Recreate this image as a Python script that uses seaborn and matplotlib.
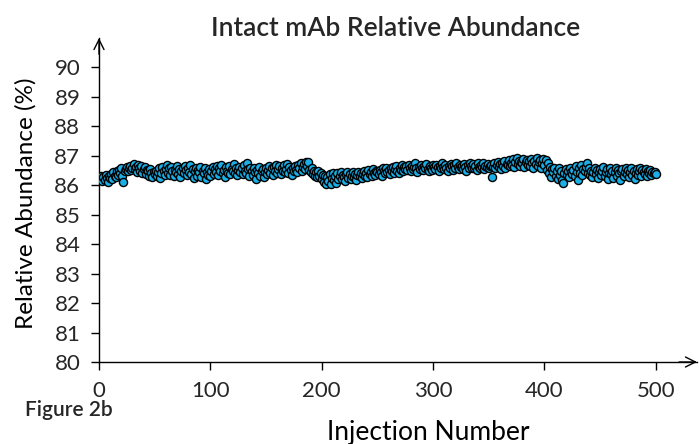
import numpy as np
import pandas as pd
import matplotlib
matplotlib.use("Agg")
import matplotlib.pyplot as plt
import seaborn as sns

# relative abundance (%) of intact mAb for injections 1..500
abundance = [
    86.22, 86.31, 86.15, 86.28, 86.19, 86.35, 86.24, 86.12, 86.30, 86.26, 86.38, 86.21, 86.44, 86.33, 86.29, 86.47, 86.36, 86.52, 86.41, 86.58, 86.32, 86.12, 86.49, 86.55, 86.62,
    86.48, 86.57, 86.66, 86.51, 86.60, 86.72, 86.54, 86.63, 86.45, 86.69, 86.58, 86.50, 86.64, 86.42, 86.56, 86.61, 86.38, 86.52, 86.47, 86.33, 86.55, 86.41, 86.29, 86.46, 86.37,
    86.50, 86.32, 86.44, 86.58, 86.26, 86.40, 86.62, 86.48, 86.35, 86.55, 86.68, 86.43, 86.57, 86.36, 86.61, 86.49, 86.30, 86.53, 86.45, 86.64, 86.38, 86.56, 86.27, 86.47, 86.59,
    86.42, 86.66, 86.51, 86.34, 86.58, 86.45, 86.70, 86.39, 86.55, 86.24, 86.48, 86.60, 86.33, 86.52, 86.44, 86.63, 86.29, 86.50, 86.41, 86.57, 86.22, 86.46, 86.35, 86.54, 86.31,
    86.49, 86.62, 86.38, 86.55, 86.44, 86.67, 86.36, 86.58, 86.47, 86.70, 86.40, 86.53, 86.29, 86.61, 86.50, 86.43, 86.65, 86.37, 86.56, 86.48, 86.72, 86.41, 86.59, 86.34, 86.52,
    86.63, 86.45, 86.57, 86.38, 86.68, 86.50, 86.42, 86.74, 86.55, 86.31, 86.60, 86.47, 86.36, 86.58, 86.44, 86.22, 86.51, 86.40, 86.62, 86.33, 86.49, 86.56, 86.27, 86.45, 86.60,
    86.38, 86.52, 86.66, 86.43, 86.57, 86.35, 86.61, 86.48, 86.70, 86.42, 86.55, 86.64, 86.37, 86.59, 86.50, 86.68, 86.45, 86.56, 86.73, 86.40, 86.62, 86.51, 86.34, 86.58, 86.47,
    86.65, 86.53, 86.44, 86.69, 86.57, 86.76, 86.48, 86.62, 86.71, 86.55, 86.80, 86.66, 86.78, 86.52, 86.45, 86.60, 86.38, 86.50, 86.33, 86.46, 86.28, 86.48, 86.30, 86.41, 86.22,
    86.35, 86.12, 86.30, 86.04, 86.27, 86.15, 86.38, 86.06, 86.24, 86.42, 86.18, 86.33, 86.09, 86.40, 86.22, 86.31, 86.45, 86.20, 86.36, 86.27, 86.16, 86.39, 86.44, 86.25, 86.37,
    86.21, 86.31, 86.44, 86.28, 86.38, 86.19, 86.35, 86.46, 86.30, 86.41, 86.24, 86.37, 86.49, 86.33, 86.43, 86.27, 86.52, 86.39, 86.46, 86.32, 86.55, 86.42, 86.36, 86.50, 86.44,
    86.38, 86.53, 86.46, 86.33, 86.57, 86.49, 86.41, 86.60, 86.45, 86.52, 86.37, 86.58, 86.48, 86.62, 86.43, 86.55, 86.66, 86.50, 86.40, 86.59, 86.53, 86.68, 86.47, 86.61, 86.56,
    86.64, 86.52, 86.70, 86.58, 86.49, 86.66, 86.55, 86.62, 86.75, 86.57, 86.46, 86.63, 86.54, 86.69, 86.60, 86.51, 86.67, 86.58, 86.72, 86.55, 86.48, 86.65, 86.59, 86.53, 86.68,
    86.61, 86.55, 86.70, 86.63, 86.50, 86.66, 86.58, 86.74, 86.62, 86.54, 86.69, 86.60, 86.47, 86.65, 86.57, 86.72, 86.64, 86.52, 86.68, 86.59, 86.76, 86.63, 86.55, 86.70, 86.61,
    86.67, 86.56, 86.73, 86.62, 86.50, 86.68, 86.60, 86.75, 86.64, 86.57, 86.71, 86.59, 86.66, 86.53, 86.74, 86.63, 86.58, 86.69, 86.61, 86.77, 86.55, 86.67, 86.62, 86.72, 86.58,
    86.65, 86.70, 86.28, 86.63, 86.74, 86.59, 86.68, 86.80, 86.62, 86.71, 86.56, 86.75, 86.66, 86.82, 86.60, 86.73, 86.68, 86.85, 86.64, 86.77, 86.70, 86.88, 86.62, 86.79, 86.94,
    86.72, 86.84, 86.66, 86.80, 86.74, 86.90, 86.63, 86.78, 86.86, 86.70, 86.82, 86.67, 86.88, 86.75, 86.60, 86.83, 86.71, 86.92, 86.65, 86.79, 86.87, 86.58, 86.76, 86.90, 86.68,
    86.85, 86.52, 86.74, 86.40, 86.62, 86.28, 86.55, 86.44, 86.60, 86.32, 86.50, 86.22, 86.57, 86.36, 86.47, 86.18, 86.08, 86.42, 86.56, 86.35, 86.49, 86.27, 86.60, 86.44, 86.38,
    86.52, 86.30, 86.66, 86.45, 86.19, 86.58, 86.40, 86.70, 86.34, 86.55, 86.47, 86.62, 86.74, 86.41, 86.57, 86.36, 86.50, 86.28, 86.46, 86.60, 86.38, 86.53, 86.24, 86.44, 86.56,
    86.35, 86.48, 86.62, 86.30, 86.45, 86.54, 86.22, 86.41, 86.58, 86.37, 86.50, 86.26, 86.46, 86.60, 86.33, 86.52, 86.43, 86.18, 86.49, 86.56, 86.31, 86.44, 86.57, 86.38, 86.51,
    86.27, 86.45, 86.58, 86.34, 86.49, 86.21, 86.42, 86.55, 86.36, 86.47, 86.60, 86.32, 86.52, 86.44, 86.39, 86.56, 86.30, 86.48, 86.42, 86.53, 86.35, 86.46, 86.40, 86.44, 86.38,
]
injection = list(range(1, len(abundance) + 1))

x_ticks = [0, 100, 200, 300, 400, 500]
y_ticks = [80, 81, 82, 83, 84, 85, 86, 87, 88, 89, 90]

df = pd.DataFrame({"injection": injection, "abundance": abundance})

sns.set_style("white")
plt.rcParams["font.family"] = ["Lato", "DejaVu Sans"]

fig = plt.figure(figsize=(6.99, 4.44), dpi=100)
ax = fig.add_axes([99 / 699, 1 - 362 / 444, (697 - 99) / 699, (362 - 38) / 444])

sns.scatterplot(data=df, x="injection", y="abundance", ax=ax,
                color="#1AAFE6", edgecolor="black", linewidth=1.0, s=34, zorder=3)

ax.set_xlim(0, 537)
ax.set_ylim(80, 91)
ax.set_xticks(x_ticks)
ax.set_yticks(y_ticks)
ax.tick_params(axis="both", direction="out", length=5.5, width=1, color="black",
               labelsize=16, pad=8, bottom=True, left=True)
for side in ["top", "right"]:
    ax.spines[side].set_visible(False)
for side in ["left", "bottom"]:
    ax.spines[side].set_color("black")
    ax.spines[side].set_linewidth(1)

# open arrow heads at the ends of the axes
ax.annotate("", xy=(1, 0), xytext=(0.97, 0), xycoords="axes fraction",
            arrowprops=dict(arrowstyle="->", lw=1, color="black", mutation_scale=18,
                            shrinkA=0, shrinkB=0))
ax.annotate("", xy=(0, 1), xytext=(0, 0.95), xycoords="axes fraction",
            arrowprops=dict(arrowstyle="->", lw=1, color="black", mutation_scale=18,
                            shrinkA=0, shrinkB=0))

ax.set_xlabel("")
ax.set_ylabel("Relative Abundance (%)", fontsize=17.5, color="black")
ax.yaxis.set_label_coords((37 - 99) / 598, 0.49)
fig.text(428 / 699, 1 - 432 / 444, "Injection Number", fontsize=19, color="black",
         ha="center", va="center")
fig.text(25 / 699, 1 - 410 / 444, "Figure 2b", fontsize=15, fontweight="semibold",
         ha="left", va="center")
fig.text(396 / 699, 1 - 28 / 444, "Intact mAb Relative Abundance", fontsize=19,
         fontweight="semibold", ha="center", va="center")

fig.savefig("out.png", dpi=100)
